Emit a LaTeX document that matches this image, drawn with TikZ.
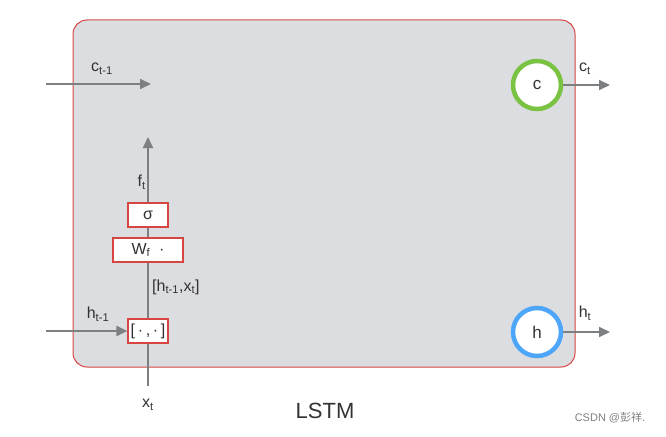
\documentclass[tikz,border=0pt]{standalone}
\usepackage{fontspec}
\setmainfont{Liberation Sans}
\newfontfamily\cjkfont{Noto Sans CJK SC}
\usetikzlibrary{positioning, arrows.meta}

\definecolor{cellgray}{RGB}{220,221,224}
\definecolor{cellred}{RGB}{214,69,65}
\definecolor{flowgray}{RGB}{125,128,131}
\definecolor{darktext}{RGB}{50,50,50}
\definecolor{cgreen}{RGB}{122,194,66}
\definecolor{hblue}{RGB}{77,166,250}

\begin{document}
\begin{tikzpicture}[
        x=1pt, y=-1pt,
        cell/.style={draw=cellred, fill=cellgray, rounded corners=14pt, line width=1pt, minimum width=502pt, minimum height=347pt, inner sep=0pt},
        opbox/.style={draw=cellred, fill=white, line width=1.2pt, minimum height=24pt, inner sep=0pt, text=darktext, font=\fontsize{16}{18}\selectfont},
        state/.style={circle, fill=white, line width=4.5pt, minimum size=48pt, inner sep=0pt, text=darktext, font=\fontsize{17}{19}\selectfont},
        flow/.style={-{Triangle[length=11pt, width=10pt]}, draw=flowgray, line width=2pt},
        wire/.style={draw=flowgray, line width=2pt},
        label_text/.style={font=\fontsize{16}{18}\selectfont, text=darktext, inner sep=1pt}
    ]
        \useasboundingbox (0,0) rectangle (666,436);

        \node[cell] (cell) at (324,193.5) {};

        % gate column
        \node[opbox, minimum width=40pt] (concat) at (148,331) {[\,·\,,\,·\,]};
        \node[opbox, minimum width=70pt] (weight) at (148,250) {W\textsubscript{f}\ \ ·};
        \node[opbox, minimum width=40pt] (sigma) at (148,215) {σ};

        \coordinate (xin) at (148,386);
        \coordinate (fout) at (148,137);
        \coordinate (cin) at (46,84);
        \coordinate (cend) at (151,84);
        \coordinate (hin) at (46,331);

        \node[state, draw=cgreen] (cstate) at (537,85) {c};
        \node[state, draw=hblue] (hstate) at (537,332) {h};
        \coordinate (cout) at (610,85);
        \coordinate (hout) at (610,332);

        \draw[wire] (xin) -- (concat);
        \draw[wire] (concat) -- (weight);
        \draw[wire] (weight) -- (sigma);
        \draw[flow] (sigma) -- (fout);
        \draw[flow] (hin) -- (concat);
        \draw[flow] (cin) -- (cend);
        \draw[flow] (cstate) -- (cout);
        \draw[flow] (hstate) -- (hout);

        % labels
        \node[label_text] (clabel) at (102,69) {c\textsubscript{t-1}};
        \node[label_text] (hlabel) at (98,314) {h\textsubscript{t-1}};
        \node[label_text, anchor=east] (flabel) at (147,182) {f\textsubscript{t}};
        \node[label_text, anchor=west] (catlabel) at (151,287) {[h\textsubscript{t-1},x\textsubscript{t}]};
        \node[label_text] (xlabel) at (148,405) {x\textsubscript{t}};
        \node[label_text] (ctlabel) at (585,69) {c\textsubscript{t}};
        \node[label_text] (htlabel) at (585,313) {h\textsubscript{t}};

        \node[font=\fontsize{22}{25}\selectfont, text=darktext] (title) at (325,411) {LSTM};
        \node[font=\fontsize{11}{13}\selectfont, text=gray] (mark) at (610,418) {CSDN @{\cjkfont 彭祥}.};

    \end{tikzpicture}
\end{document}
